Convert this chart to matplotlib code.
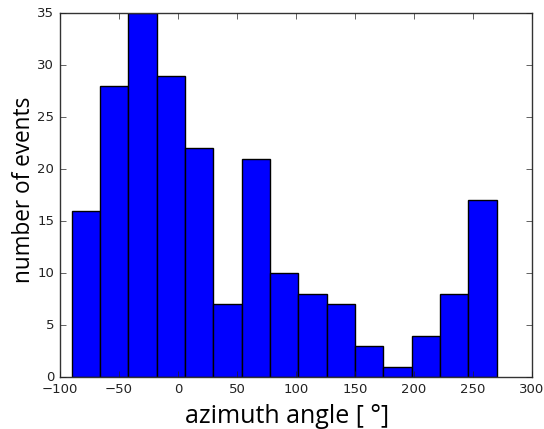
import numpy as np
import matplotlib
matplotlib.use("Agg")
import matplotlib.pyplot as plt

# histogram of azimuth angles, 15 bins of 24 deg from -90 to 270
bin_edges = [-90, -66, -42, -18, 6, 30, 54, 78, 102, 126, 150, 174, 198, 222, 246, 270]
counts = [16, 28, 35, 29, 22, 7, 21, 10, 8, 7, 3, 1, 4, 8, 17]

plt.style.use("classic")
fig = plt.figure(figsize=(5.44, 4.29), dpi=100, facecolor="white")
ax = fig.add_axes([0.110, 0.121, 0.868, 0.848])

edges = np.array(bin_edges, dtype=float)
centers = (edges[:-1] + edges[1:]) / 2
ax.hist(centers, bins=edges, weights=counts, color="#0000ff", edgecolor="black", linewidth=1)

ax.set_xlim(-100, 300)
ax.set_ylim(0, 35)
ax.tick_params(labelsize=9.5, colors="#222222")
for s in ax.spines.values():
    s.set_color("#333333")

ax.set_xlabel("azimuth angle [ °]", fontsize=18, family="Open Sans", x=0.481, labelpad=6)
ax.set_ylabel("number of events", fontsize=16.3, family="Open Sans", y=0.516, labelpad=1)

fig.savefig("out.png", dpi=100, facecolor="white")
